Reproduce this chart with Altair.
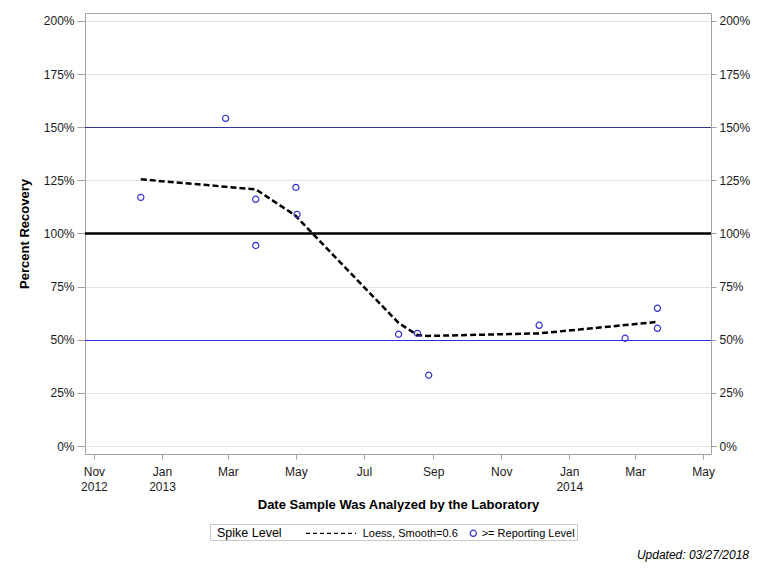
import altair as alt
import pandas as pd

# ---- data ----
sample_dates = ["2012-12-13", "2013-02-27", "2013-03-26", "2013-03-26", "2013-05-01",
                "2013-05-02", "2013-08-01", "2013-08-18", "2013-08-28", "2013-12-05",
                "2014-02-20", "2014-03-21", "2014-03-21"]
recovery = [117.0, 154.2, 116.1, 94.4, 121.7, 109.0, 52.6, 53.0, 33.3, 56.8, 50.7, 64.8, 55.4]

loess_dates = ["2012-12-13", "2013-02-27", "2013-03-26", "2013-05-01", "2013-05-02",
               "2013-08-01", "2013-08-18", "2013-08-28", "2013-12-05", "2014-02-20",
               "2014-03-21"]
loess_fit = [125.5, 122.0, 120.8, 108.3, 107.6, 57.9, 52.2, 51.8, 53.0, 56.9, 58.4]

ref_levels = [150, 100, 50]
ref_colors = ["#30309a", "#000000", "#2c2cf0"]
ref_widths = [1.0, 2.5, 1.0]
ref_pixel_nudge = [0.25, 0.0, 0.75]   # keep thin rules on whole pixels

y_ticks = [0, 25, 50, 75, 100, 125, 150, 175, 200]
x_tick_months = [(2012, 11), (2013, 1), (2013, 3), (2013, 5), (2013, 7), (2013, 9),
                 (2013, 11), (2014, 1), (2014, 3), (2014, 5)]

points_df = pd.DataFrame({"date": sample_dates, "recovery": recovery})
loess_df = pd.DataFrame({"date": loess_dates, "fit": loess_fit})
dummy = pd.DataFrame({"a": [0]})

FONT = "Liberation Sans"
GRAY = "#a0a0a0"
MARK_BLUE = "#2f2fd0"

x_scale = alt.Scale(type="utc",
                    domain=[alt.DateTime(year=2012, month=10, date=24, utc=True),
                            alt.DateTime(year=2014, month=5, date=8, utc=True)])
y_domain = [-3.76, 203.76]


def y_scale():
    return alt.Scale(domain=y_domain, nice=False, zero=False)


x_axis = alt.Axis(
    values=[alt.DateTime(year=y, month=m, date=1, utc=True) for y, m in x_tick_months],
    labelExpr="[utcFormat(datum.value, '%b'), (utcmonth(datum.value) == 0 || utcyear(datum.value) == 2012) ? utcFormat(datum.value, '%Y') : '']",
    labelLineHeight=15, labelFontSize=12, labelColor="#1a1a1a", labelPadding=7,
    labelOverlap=False, labelFlush=False,
    tickSize=5, tickColor=GRAY, domain=False, grid=False,
    title="Date Sample Was Analyzed by the Laboratory",
    titleFontSize=13, titleFontWeight="bold", titleColor="#000000",
    titleX=313, titleY=54.5, titleAlign="center", titleBaseline="alphabetic",
)

x_enc = alt.X("date:T", scale=x_scale, axis=x_axis)

left_axis = alt.Axis(
    orient="left", values=y_ticks, labelExpr="datum.value + '%'",
    labelFontSize=12, labelColor="#1a1a1a", labelPadding=3,
    tickSize=8, tickColor=GRAY, domain=False,
    grid=True, gridColor="#e2e2e2", gridWidth=1,
    title="Percent Recovery", titleFontSize=13, titleFontWeight="bold", titleColor="#000000",
    titleAngle=270, titleX=-57, titleY=220.5, titleAlign="center", titleBaseline="alphabetic",
)

right_axis = alt.Axis(
    orient="right", values=y_ticks, labelExpr="datum.value + '%'",
    labelFontSize=12, labelColor="#1a1a1a", labelPadding=3,
    tickSize=5, tickColor=GRAY, domain=False, grid=False, title=None,
)

ref_layers = []
for i, (lvl, col, wid, nud) in enumerate(zip(ref_levels, ref_colors, ref_widths, ref_pixel_nudge)):
    ref_layers.append(
        alt.Chart(pd.DataFrame({"level": [lvl]})).mark_rule(color=col, strokeWidth=wid, yOffset=nud).encode(
            y=alt.Y("level:Q", scale=y_scale(), axis=right_axis if i == 0 else None)
        )
    )

loess = alt.Chart(loess_df).mark_line(color="black", strokeDash=[6, 3], strokeWidth=2.5).encode(
    x=x_enc,
    y=alt.Y("fit:Q", scale=y_scale(), axis=None),
)

points = alt.Chart(points_df).mark_point(shape="circle", filled=False, color=MARK_BLUE,
                                         size=38, strokeWidth=1.2, opacity=1).encode(
    x=x_enc,
    y=alt.Y("recovery:Q", scale=y_scale(), axis=left_axis),
)

# ---- legend (drawn by hand, below the plot) ----
leg_box = alt.Chart(dummy).mark_rect(fill="white", stroke="#c8c8c8", strokeWidth=1).encode(
    x=alt.value(125.5), x2=alt.value(492.5), y=alt.value(511.5), y2=alt.value(527.5))
leg_title = alt.Chart(dummy).mark_text(text="Spike Level", align="left", baseline="alphabetic",
                                       fontSize=12.5, color="#000000").encode(
    x=alt.value(132), y=alt.value(524))
leg_dash = alt.Chart(dummy).mark_rule(color="black", strokeDash=[4, 3], strokeWidth=1.2).encode(
    x=alt.value(221), x2=alt.value(271), y=alt.value(520.3))
leg_loess = alt.Chart(dummy).mark_text(text="Loess, Smooth=0.6", align="left", baseline="alphabetic",
                                       fontSize=11, color="#000000").encode(
    x=alt.value(277.7), y=alt.value(523.7))
leg_pt = alt.Chart(dummy).mark_point(shape="circle", filled=False, color=MARK_BLUE, size=38,
                                     strokeWidth=1.2, opacity=1).encode(
    x=alt.value(388.3), y=alt.value(520.3))
leg_rep = alt.Chart(dummy).mark_text(text=">= Reporting Level", align="left", baseline="alphabetic",
                                     fontSize=11, color="#000000").encode(
    x=alt.value(396.7), y=alt.value(523.7))
footer = alt.Chart(dummy).mark_text(text="Updated: 03/27/2018", align="right", baseline="alphabetic",
                                    fontSize=12, fontStyle="italic", color="#000000").encode(
    x=alt.value(664), y=alt.value(546))

chart = alt.layer(
    *ref_layers, loess, points, leg_box, leg_title, leg_dash, leg_loess, leg_pt, leg_rep, footer
).resolve_scale(y="independent").properties(
    width=626, height=441,
    padding={"left": 77, "top": 5, "right": 49, "bottom": 114},
    autosize=alt.AutoSizeParams(type="none"),
    background="white",
).configure(font=FONT).configure_view(stroke=GRAY, strokeWidth=1)

chart.save("out.html", embed_options={"renderer": "svg", "actions": False})
